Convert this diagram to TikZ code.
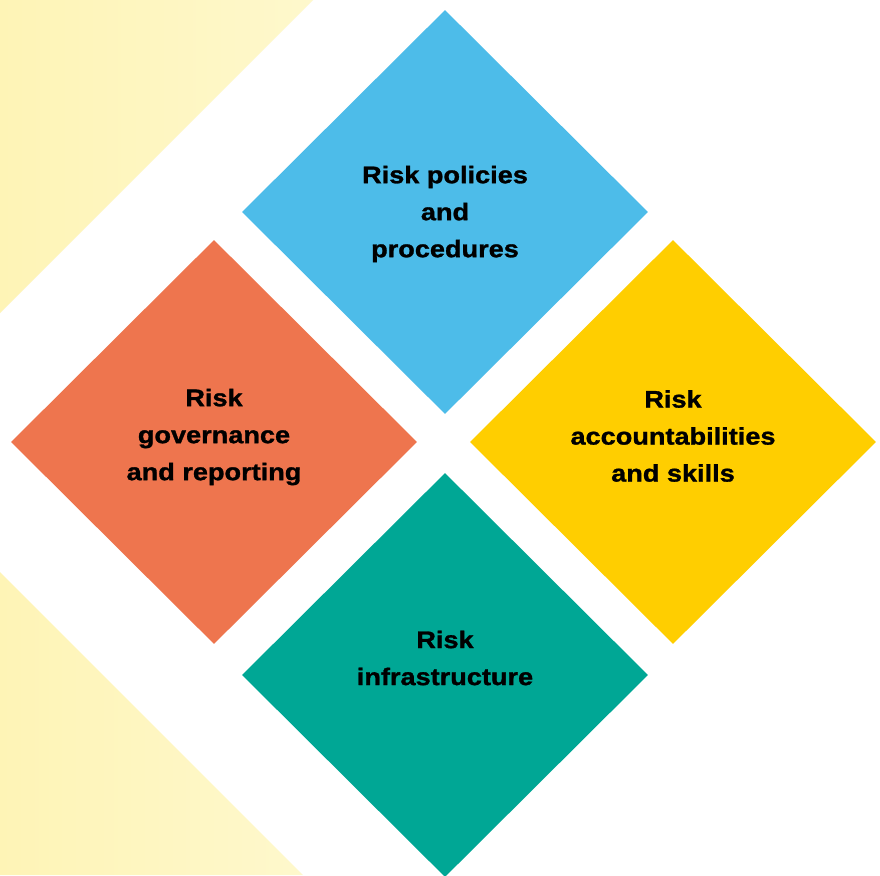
\documentclass[tikz,border=0pt]{standalone}
\usepackage{fontspec}
\setmainfont{Liberation Sans}[FakeStretch=1.13, BoldFeatures={FakeBold=1.2}]
\usetikzlibrary{shapes.geometric}
\definecolor{cblue}{RGB}{77,188,233}
\definecolor{corange}{RGB}{238,117,78}
\definecolor{cyellow}{RGB}{255,206,0}
\definecolor{cteal}{RGB}{0,167,149}
\definecolor{bgA}{RGB}{254,244,182}
\definecolor{bgB}{RGB}{254,248,204}
\tikzset{
  tile/.style={diamond, inner sep=0pt, minimum width=406pt, minimum height=404pt, draw=none},
  lbl/.style={align=center, text=black, font=\bfseries\fontsize{24}{37}\selectfont},
  bgtri/.style={left color=bgA, right color=bgB},
}
\begin{document}
\begin{tikzpicture}[x=1pt,y=-1pt]
\useasboundingbox (0,0) rectangle (880,875);
\clip (0,0) rectangle (880,875);
\fill[fill=white] (0,0) rectangle (880,875);
% pale yellow background triangles
\shade[bgtri] (0,0) -- (313,0) -- (0,313) -- cycle;
\shade[bgtri] (0,572) -- (303,875) -- (0,875) -- cycle;
% tiles
\node[tile, fill=cblue]   (policies) at (445,212) {};
\node[tile, fill=corange] (governance) at (214,442) {};
\node[tile, fill=cyellow] (accountabilities) at (673,442) {};
\node[tile, fill=cteal]   (infrastructure) at (445,675) {};
% labels
\node[lbl] (tpolicies) at (445,214) {Risk policies\\and\\procedures};
\node[lbl] (tgovernance) at (214,437) {Risk\\governance\\and reporting};
\node[lbl] (taccount) at (673,436) {Risk\\accountabilities\\and skills};
\node[lbl] (tinfra) at (445,658) {Risk\\infrastructure};
\end{tikzpicture}
\end{document}
